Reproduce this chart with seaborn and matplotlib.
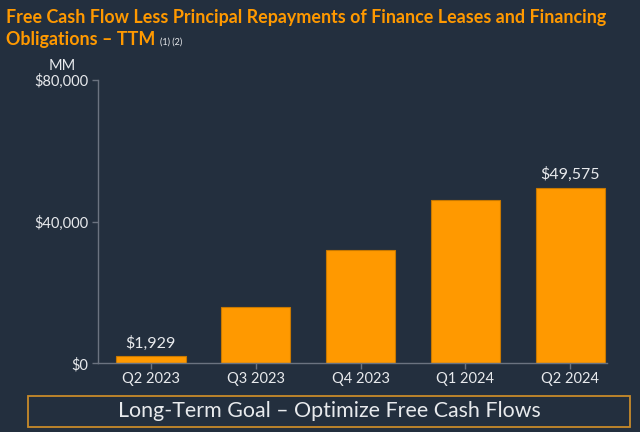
import matplotlib
matplotlib.use("Agg")
import matplotlib.pyplot as plt
import seaborn as sns
import pandas as pd
from matplotlib.patches import Rectangle

categories = ["Q2 2023", "Q3 2023", "Q4 2023", "Q1 2024", "Q2 2024"]
values = [1929, 15800, 32000, 46000, 49575]
value_labels = ["$1,929", "", "", "", "$49,575"]
ytick_values = [0, 40000, 80000]
ytick_labels = ["$0", "$40,000", "$80,000"]

BG = "#232F3E"
ORANGE = "#FF9900"
TXT = "#E8EAED"
GRID = "#6B7380"

sns.set_theme(style="white")
plt.rcParams["font.family"] = ["Lato", "DejaVu Sans"]

df = pd.DataFrame({"quarter": categories, "value": values})

fig = plt.figure(figsize=(6.4, 4.32), dpi=100, facecolor=BG)
ax = fig.add_axes([98.3 / 640, (432 - 363.3) / 432, (607 - 98.3) / 640, 283.3 / 432])
ax.set_facecolor(BG)

sns.barplot(data=df, x="quarter", y="value", color=ORANGE, width=0.663,
            edgecolor="#C87800", linewidth=0.8, saturation=1, ax=ax)

ax.set_xlim(-0.5, 4.35)
ax.set_ylim(0, 80000)
ax.set_yticks(ytick_values)
ax.set_yticklabels(ytick_labels)
ax.set_xlabel("")
ax.set_ylabel("")
for s in ["top", "right"]:
    ax.spines[s].set_visible(False)
for s in ["left", "bottom"]:
    ax.spines[s].set_color(GRID)
    ax.spines[s].set_linewidth(1.0)
ax.tick_params(axis="both", colors=GRID, labelcolor=TXT, labelsize=10.5,
               length=4, width=1, direction="out", bottom=True, left=True)
ax.tick_params(axis="x", pad=2)
ax.tick_params(axis="y", pad=3)

for i, (v, lab) in enumerate(zip(values, value_labels)):
    if lab:
        ax.annotate(lab, (i, v), xytext=(0, 4), textcoords="offset points",
                    ha="center", va="bottom", color=TXT, fontsize=11.5)

fig.text(62 / 640, 1 - 66 / 432, "MM", ha="center", va="center", color=TXT, fontsize=10.5)

fig.text(6 / 640, 1 - 17 / 432,
         "Free Cash Flow Less Principal Repayments of Finance Leases and Financing",
         ha="left", va="center", color=ORANGE, fontsize=12.9, fontweight="bold")
t2 = fig.text(6 / 640, 1 - 39 / 432, "Obligations \u2013 TTM",
              ha="left", va="center", color=ORANGE, fontsize=12.9, fontweight="bold")
fig.canvas.draw()
bb = t2.get_window_extent()
fig.text((bb.x1 + 5) / 640, 1 - 42 / 432, "(1) (2)", ha="left", va="center",
         color=TXT, fontsize=6.5)

fig.patches.append(Rectangle((28 / 640, 1 - 427 / 432), (630 - 28) / 640, 31 / 432,
                             transform=fig.transFigure, facecolor="none",
                             edgecolor="#C88A2A", linewidth=1.3))
fig.text(329 / 640, 1 - 411 / 432, "Long-Term Goal \u2013 Optimize Free Cash Flows",
         ha="center", va="center", color=TXT, fontsize=15.4)

fig.savefig("out.png", dpi=100, facecolor=BG)
